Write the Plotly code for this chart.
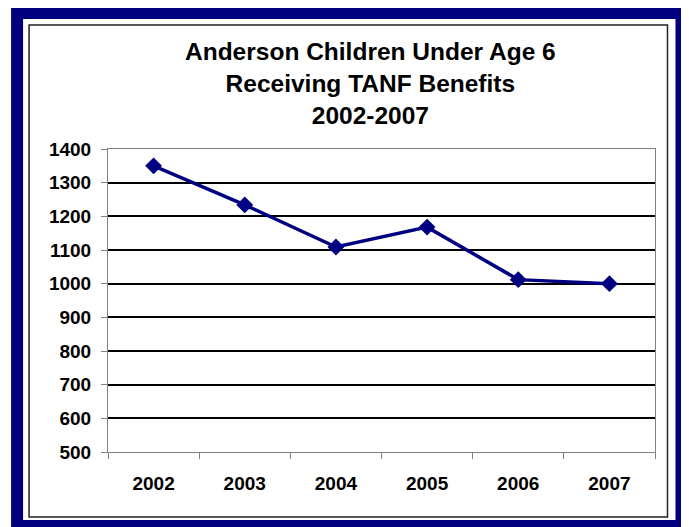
import plotly.graph_objects as go

years = ["2002", "2003", "2004", "2005", "2006", "2007"]
children = [1350, 1234, 1109, 1168, 1012, 1000]
title_lines = ["Anderson Children Under Age 6", "Receiving TANF Benefits", "2002-2007"]

OFF = 8  # page body margin
W, H = 689 - OFF, 527 - OFF
PLOT_L, PLOT_R, PLOT_T, PLOT_B = 108, 655.5, 149, 452  # screen pixels
L = PLOT_L - OFF
T = PLOT_T - OFF
PW = PLOT_R - PLOT_L
PH = PLOT_B - PLOT_T
R = W - L - PW
B = H - T - PH
NAVY = "#000080"


def px_x(px):
    return (px - PLOT_L) / PW


def px_y(py):
    return (PLOT_B - py) / PH


fig = go.Figure()
fig.add_trace(go.Scatter(
    x=years, y=children, mode="lines+markers",
    line=dict(color=NAVY, width=3.5),
    marker=dict(symbol="diamond", size=13, color=NAVY),
    showlegend=False, hoverinfo="x+y",
))

shapes = [
    dict(type="rect", xref="paper", yref="paper", layer="below",
         x0=px_x(11), x1=px_x(720), y0=px_y(7), y1=px_y(560),
         fillcolor=NAVY, line=dict(width=0)),
    dict(type="rect", xref="paper", yref="paper", layer="below",
         x0=px_x(23), x1=px_x(676), y0=px_y(19), y1=px_y(520),
         fillcolor="white", line=dict(width=0)),
    dict(type="rect", xref="paper", yref="paper", layer="below",
         x0=px_x(29), x1=px_x(668), y0=px_y(25), y1=px_y(517),
         fillcolor="rgba(0,0,0,0)", line=dict(color="#222222", width=1.5)),
]

fig.update_layout(
    width=W, height=H,
    margin=dict(l=L, r=R, t=T, b=B, pad=0),
    paper_bgcolor="white",
    plot_bgcolor="rgba(0,0,0,0)",
    shapes=shapes,
    font=dict(family="Liberation Sans, Arial, sans-serif", color="black"),
    annotations=[dict(
        text="<b>" + "<br>".join(title_lines) + "</b>",
        xref="paper", yref="paper", x=px_x(371), y=px_y(84),
        xanchor="center", yanchor="middle", showarrow=False,
        font=dict(size=24.5, color="black"),
    )],
)

fig.update_xaxes(
    type="category", range=[-0.5, 5.5],
    showline=True, linecolor="#808080", linewidth=1, mirror=True,
    ticks="outside", tickson="boundaries", ticklen=6, tickcolor="#808080",
    showgrid=False, ticklabelstandoff=14,
    tickfont=dict(size=19, family="Liberation Sans, Arial, sans-serif", weight="bold"),
)
fig.update_yaxes(
    range=[500, 1400], dtick=100, tick0=500,
    showline=True, linecolor="#808080", linewidth=1, mirror=True,
    ticks="outside", ticklen=6, tickcolor="#808080",
    showgrid=True, gridcolor="black", gridwidth=1.6, zeroline=False,
    ticklabelstandoff=6,
    tickfont=dict(size=19, family="Liberation Sans, Arial, sans-serif", weight="bold"),
)

fig.write_html("out.html")
